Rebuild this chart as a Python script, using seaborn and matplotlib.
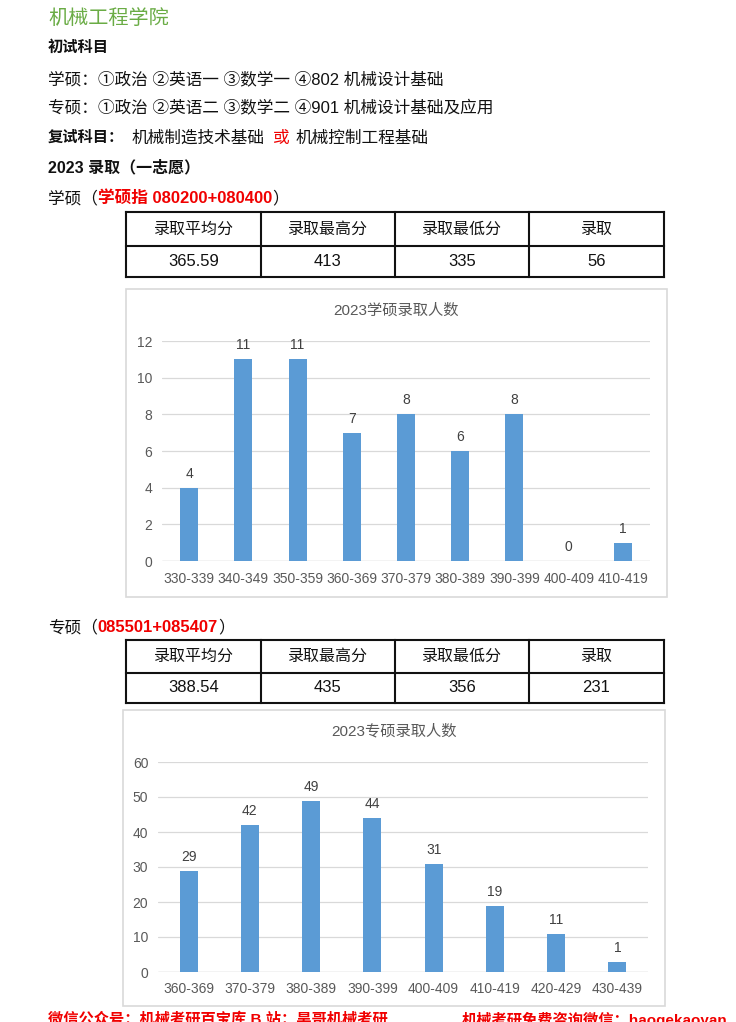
import matplotlib
matplotlib.use("Agg")
import matplotlib.pyplot as plt
import seaborn as sns
import pandas as pd
from matplotlib.patches import Rectangle

sns.set_style("white")
FAM = ["Liberation Sans", "Noto Sans CJK SC", "DejaVu Sans"]
plt.rcParams["font.family"] = FAM

# ---------------- data ----------------
xs_cats = ["330-339", "340-349", "350-359", "360-369", "370-379",
           "380-389", "390-399", "400-409", "410-419"]
xs_vals = [4, 11, 11, 7, 8, 6, 8, 0, 1]
xs_labels = ["4", "11", "11", "7", "8", "6", "8", "0", "1"]

zs_cats = ["360-369", "370-379", "380-389", "390-399",
           "400-409", "410-419", "420-429", "430-439"]
zs_vals = [29, 42, 49, 44, 31, 19, 11, 3]
zs_labels = ["29", "42", "49", "44", "31", "19", "11", "1"]

table_header = ["录取平均分", "录取最高分", "录取最低分", "录取"]
xs_table = ["365.59", "413", "335", "56"]
zs_table = ["388.54", "435", "356", "231"]

W, H = 736, 1022
fig = plt.figure(figsize=(W / 100, H / 100), dpi=100)
fig.patch.set_facecolor("white")
renderer = fig.canvas.get_renderer()

GREEN = "#6aac45"
RED = "#f00000"
TXT = "#111111"
BAR = "#5b9bd5"
GRID = "#d9d9d9"
TICK = "#595959"


def T(x, y, s, **kw):
    kw.setdefault("va", "center")
    kw.setdefault("ha", "left")
    kw.setdefault("color", TXT)
    kw.setdefault("fontsize", 12)
    return fig.text(x / W, 1 - y / H, s, **kw)


def run(x, y, segments):
    """Draw consecutive text segments on one line."""
    for s, kw in segments:
        t = T(x, y, s, **kw)
        bb = t.get_window_extent(renderer=renderer)
        x += bb.width


def add_ax(x0, y0, x1, y1):
    return fig.add_axes([x0 / W, 1 - y1 / H, (x1 - x0) / W, (y1 - y0) / H])


# ---------------- text lines ----------------
T(48, 18, "机械工程学院", fontsize=14.5, color=GREEN)
T(48, 48, "初试科目", fontsize=11, fontweight="bold")
T(48, 79, "学硕：①政治 ②英语一 ③数学一 ④802 机械设计基础")
T(48, 108, "专硕：①政治 ②英语二 ③数学二 ④901 机械设计基础及应用")
T(48, 138, "复试科目：", fontsize=11, fontweight="bold")
T(132, 138, "机械制造技术基础")
T(273, 138, "或", color=RED)
T(296, 138, "机械控制工程基础")
T(48, 168, "2023 录取（一志愿）", fontsize=11.5, fontweight="bold")
run(48, 198, [("学硕（", {}),
              ("学硕指 080200+080400", dict(color=RED, fontweight="bold")),
              ("）", {})])
run(48, 627, [("专硕（", {}),
              ("085501+085407", dict(color=RED, fontweight="bold")),
              ("）", {})])


# ---------------- tables ----------------
def draw_table(y0, ymid, y1, values):
    cols = [126, 261, 395, 529, 664]
    ax = add_ax(0, 0, W, H)
    ax.set_xlim(0, W)
    ax.set_ylim(H, 0)
    ax.axis("off")
    for yy in (y0, ymid, y1):
        ax.plot([cols[0], cols[-1]], [yy, yy], color="#111111", lw=1.5,
                solid_capstyle="projecting")
    for xx in cols:
        ax.plot([xx, xx], [y0, y1], color="#111111", lw=1.5,
                solid_capstyle="projecting")
    for i in range(4):
        cx = (cols[i] + cols[i + 1]) / 2
        ax.text(cx, (y0 + ymid) / 2, table_header[i], ha="center",
                va="center", fontsize=11.5, color=TXT)
        ax.text(cx, (ymid + y1) / 2, values[i], ha="center", va="center",
                fontsize=12, color=TXT)
    ax.patch.set_alpha(0)


draw_table(212, 246, 277, xs_table)
draw_table(640, 673, 703, zs_table)


# ---------------- charts ----------------
def chart(box, plot, cats, vals, labels, ymax, ystep, title, title_y,
          width, ypad, xpad):
    bx0, by0, bx1, by1 = box
    fig.add_artist(Rectangle((bx0 / W, 1 - by1 / H), (bx1 - bx0) / W,
                             (by1 - by0) / H, transform=fig.transFigure,
                             facecolor="none", edgecolor=GRID, lw=1.2))
    T((bx0 + bx1) / 2, title_y, title, ha="center", fontsize=11,
      color=TICK)
    ax = add_ax(*plot)
    df = pd.DataFrame({"cat": cats, "n": vals})
    sns.barplot(data=df, x="cat", y="n", order=cats, color=BAR,
                saturation=1, width=width, errorbar=None, ax=ax,
                edgecolor="none", zorder=3)
    ax.set_ylim(0, ymax)
    ax.set_xlim(-0.5, len(cats) - 0.5)
    ax.set_yticks(range(0, ymax + 1, ystep))
    ax.grid(axis="y", color=GRID, lw=0.9, zorder=0)
    ax.set_axisbelow(True)
    for s in ax.spines.values():
        s.set_visible(False)
    ax.axhline(0, color=GRID, lw=1.0, zorder=1)
    ax.tick_params(axis="both", length=0, labelsize=10, labelcolor=TICK)
    ax.tick_params(axis="y", pad=ypad)
    ax.tick_params(axis="x", pad=xpad)
    ax.set_xlabel("")
    ax.set_ylabel("")
    ax.bar_label(ax.containers[0], labels=labels, padding=5, fontsize=10,
                 color="#404040")
    ax.patch.set_alpha(0)
    return ax


chart((126, 289, 667, 597), (162, 341, 650, 561), xs_cats, xs_vals,
      xs_labels, 12, 2, "2023学硕录取人数", 311, 0.33, 7, 8)
chart((123, 710, 665, 1006), (158, 762, 648, 972), zs_cats, zs_vals,
      zs_labels, 60, 10, "2023专硕录取人数", 731, 0.29, 7, 7)

# ---------------- footer (clipped at bottom edge, as in the reference) ----
T(48, 1012, "微信公众号：机械考研百宝库 B 站：昊哥机械考研", fontsize=11,
  color=RED, fontweight="bold", va="top")
T(462, 1012, "机械考研免费咨询微信：haogekaoyan", fontsize=11, color=RED,
  fontweight="bold", va="top")

fig.savefig("out.png", dpi=100, facecolor="white")
